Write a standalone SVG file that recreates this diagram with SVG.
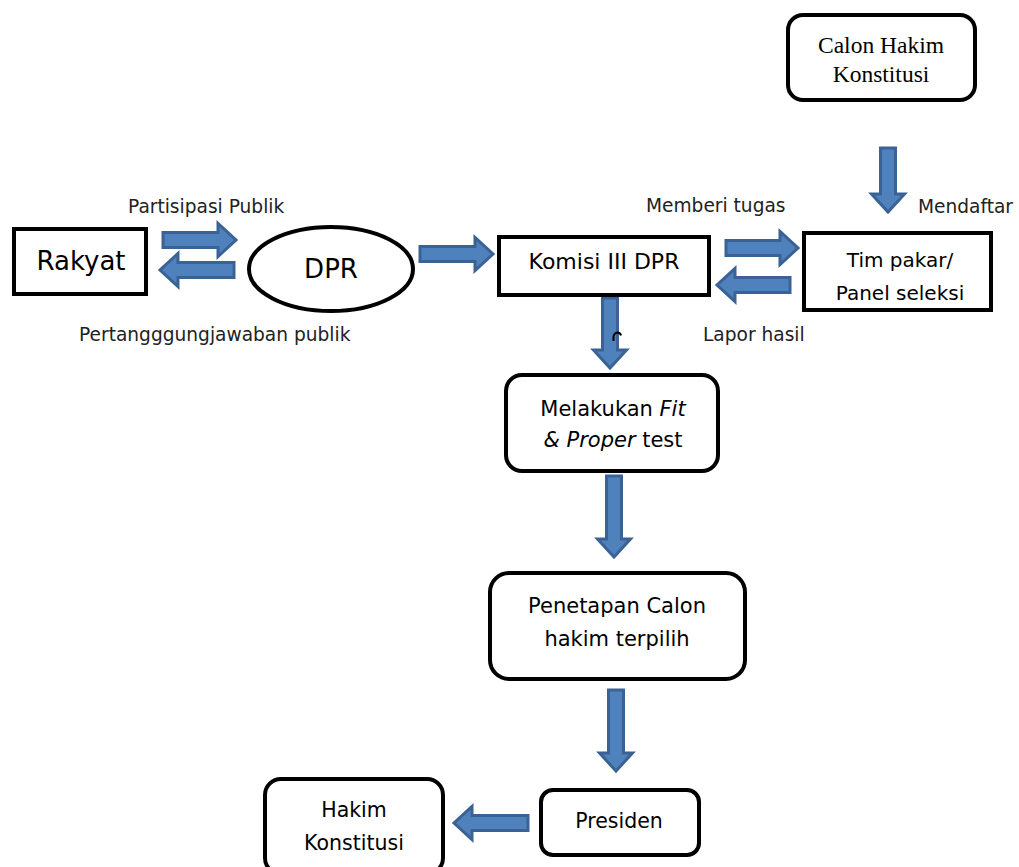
<svg xmlns="http://www.w3.org/2000/svg" width="1019" height="867" viewBox="0 0 1019 867">
<style>
.box{fill:#fff;stroke:#000;stroke-width:4}
.arr{fill:#4F81BD;stroke:#3B6294;stroke-width:3;stroke-linejoin:miter}
.t{font-family:"DejaVu Sans",Verdana,sans-serif;fill:#000;text-anchor:middle}
.lbl{font-family:"DejaVu Sans",Verdana,sans-serif;fill:#222;font-size:18.6px}
.serif{font-family:"Liberation Serif","Times New Roman",serif;fill:#000;text-anchor:middle;font-size:23.5px}
</style>
<rect width="1019" height="867" fill="#fff"/>
<g id="connectors">
<polygon class="arr" points="163,232.5 218,232.5 218,223.5 236,240 218,256.5 218,247.5 163,247.5"/>
<polygon class="arr" points="234,262.5 178,262.5 178,253.5 160,270 178,286.5 178,277.5 234,277.5"/>
<polygon class="arr" points="420,246.5 475,246.5 475,237.5 493,254 475,270.5 475,261.5 420,261.5"/>
<polygon class="arr" points="726,240.5 780,240.5 780,231.5 798,248 780,264.5 780,255.5 726,255.5"/>
<polygon class="arr" points="790,277.5 735,277.5 735,268.5 717,285 735,301.5 735,292.5 790,292.5"/>
<polygon class="arr" points="880.5,148 895.5,148 895.5,194 904.5,194 888,212 871.5,194 880.5,194"/>
<polygon class="arr" points="602.5,298 617.5,298 617.5,350 626.5,350 610,368 593.5,350 602.5,350"/>
<polygon class="arr" points="606.5,476 621.5,476 621.5,539 630.5,539 614,557 597.5,539 606.5,539"/>
<polygon class="arr" points="608.5,690 623.5,690 623.5,753 632.5,753 616,771 599.5,753 608.5,753"/>
<polygon class="arr" points="528,815.5 472,815.5 472,806.5 454,823 472,839.5 472,830.5 528,830.5"/>
<path d="M613.5 341 L613.5 336.5 Q614.5 332.5 618 332.5 Q620.5 333 621 335.5" fill="none" stroke="#000" stroke-width="2"/>
<text class="lbl" x="128" y="213">Partisipasi Publik</text>
<text class="lbl" x="79" y="341">Pertangggungjawaban publik</text>
<text class="lbl" x="646" y="212">Memberi tugas</text>
<text class="lbl" x="918" y="213">Mendaftar</text>
<text class="lbl" x="703" y="341">Lapor hasil</text>
</g>
<g id="rakyat">
<rect class="box" x="14" y="229" width="132" height="65"/>
<text class="t" x="81" y="270" font-size="26">Rakyat</text>
</g>
<g id="dpr">
<ellipse class="box" cx="331" cy="269" rx="82" ry="42"/>
<text class="t" x="331" y="278" font-size="26">DPR</text>
</g>
<g id="komisi">
<rect class="box" x="499" y="237" width="210" height="58"/>
<text class="t" x="604" y="269" font-size="22">Komisi III DPR</text>
</g>
<g id="timpakar">
<rect class="box" x="804" y="233" width="187" height="77"/>
<text class="t" x="900" y="267" font-size="20">Tim pakar/</text>
<text class="t" x="900" y="300" font-size="20">Panel seleksi</text>
</g>
<g id="calon">
<rect class="box" x="788" y="15" width="187" height="85" rx="15"/>
<text class="serif" x="881" y="53">Calon Hakim</text>
<text class="serif" x="881" y="82">Konstitusi</text>
</g>
<g id="fitproper">
<rect class="box" x="506" y="375" width="212" height="96" rx="16"/>
<text class="t" x="613" y="416" font-size="21">Melakukan <tspan font-style="italic">Fit</tspan></text>
<text class="t" x="613" y="447" font-size="21"><tspan font-style="italic">&amp; Proper</tspan> test</text>
</g>
<g id="penetapan">
<rect class="box" x="490" y="573" width="255" height="106" rx="19"/>
<text class="t" x="617" y="613" font-size="21">Penetapan Calon</text>
<text class="t" x="617" y="646" font-size="21">hakim terpilih</text>
</g>
<g id="presiden">
<rect class="box" x="541" y="790" width="158" height="65" rx="12"/>
<text class="t" x="619" y="828" font-size="20.5">Presiden</text>
</g>
<g id="hakim">
<rect class="box" x="265" y="779" width="178" height="95" rx="16"/>
<text class="t" x="354" y="817" font-size="20.5">Hakim</text>
<text class="t" x="354" y="850" font-size="20.5">Konstitusi</text>
</g>
</svg>
